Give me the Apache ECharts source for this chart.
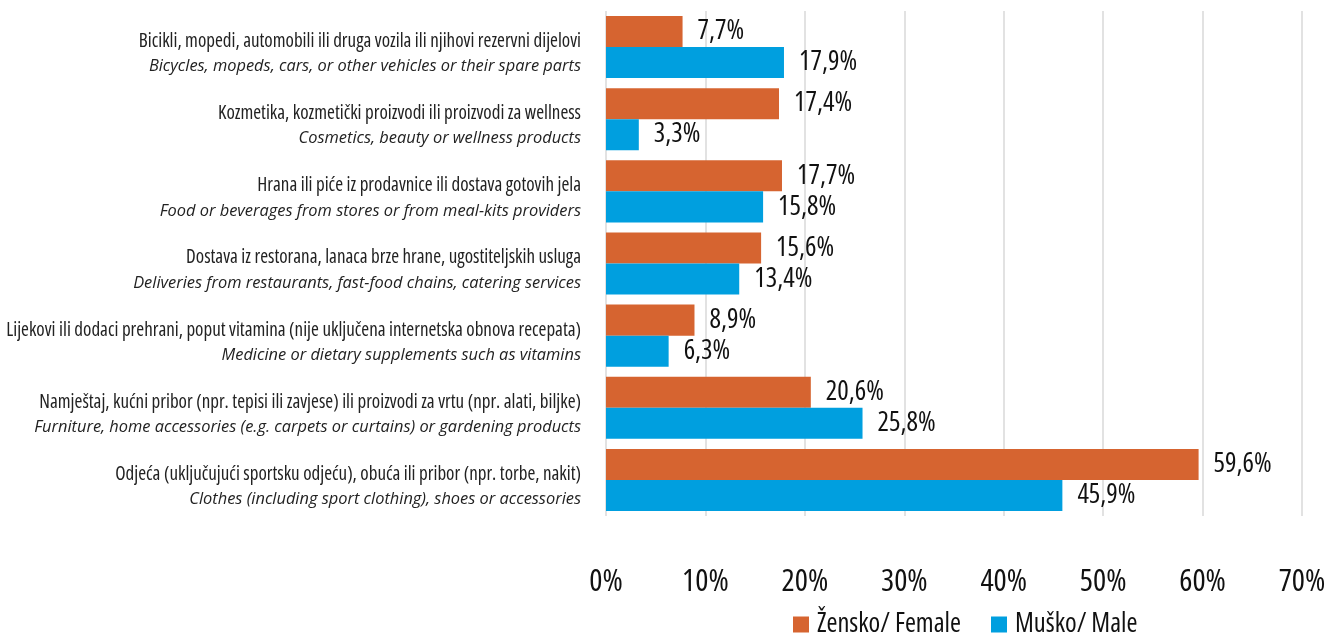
<!DOCTYPE html>
<html>
<head>
<meta charset="utf-8">
<script src="https://cdn.jsdelivr.net/npm/echarts@6/dist/echarts.min.js"></script>
<style>
  html, body { margin: 0; padding: 0; background: #fff; }
  #main { width: 1328px; height: 633px; }
</style>
</head>
<body>
<div id="main"></div>
<script>
// kategorije, odozgo prema dolje
var catLocal = [
  'Bicikli, mopedi, automobili ili druga vozila ili njihovi rezervni dijelovi',
  'Kozmetika, kozmetički proizvodi ili proizvodi za wellness',
  'Hrana ili piće iz prodavnice ili dostava gotovih jela',
  'Dostava iz restorana, lanaca brze hrane, ugostiteljskih usluga',
  'Lijekovi ili dodaci prehrani, poput vitamina (nije uključena internetska obnova recepata)',
  'Namještaj, kućni pribor (npr. tepisi ili zavjese) ili proizvodi za vrtu (npr. alati, biljke)',
  'Odjeća (uključujući sportsku odjeću), obuća ili pribor (npr. torbe, nakit)'
];
var catEnglish = [
  'Bicycles, mopeds, cars, or other vehicles or their spare parts',
  'Cosmetics, beauty or wellness products',
  'Food or beverages from stores or from meal-kits providers',
  'Deliveries from restaurants, fast-food chains, catering services',
  'Medicine or dietary supplements such as vitamins',
  'Furniture, home accessories (e.g. carpets or curtains) or gardening products',
  'Clothes (including sport clothing), shoes or accessories'
];
var female = [7.7, 17.4, 17.7, 15.6, 8.9, 20.6, 59.6];
var male = [17.9, 3.3, 15.8, 13.4, 6.3, 25.8, 45.9];
var seriesNames = ['Žensko/ Female', 'Muško/ Male'];

// Open Sans sa suženom širinom (condensed) – najbliže originalu
var FONT = '"Open Sans", "Roboto Condensed", sans-serif';
var STRETCH = 'condensed';

var myChart = echarts.init(document.getElementById('main'));

function pct(p) {
  return p.value.toFixed(1).replace('.', ',') + '%';
}

var valueLabel = {
  show: true,
  position: 'right',
  distance: 15,
  formatter: pct,
  fontFamily: FONT,
  fontWeight: STRETCH,
  fontSize: 27,
  color: '#111'
};

var option = {
  animation: false,
  textStyle: { fontFamily: FONT },
  grid: {
    left: 606,
    right: 26,
    top: 11,
    bottom: 117,
    containLabel: false,
    outerBoundsMode: 'none'
  },
  legend: {
    top: 606,
    left: 788,
    itemWidth: 16,
    itemHeight: 16,
    itemGap: 30,
    icon: 'rect',
    textStyle: { fontFamily: FONT, fontWeight: STRETCH, fontSize: 26.5, color: '#111', padding: [0, 0, 0, 3] },
    data: seriesNames
  },
  xAxis: {
    type: 'value',
    min: 0,
    max: 70,
    interval: 10,
    axisLine: { show: false },
    axisTick: { show: false },
    splitLine: { lineStyle: { color: '#d9d9d9', width: 1.5 } },
    axisLabel: {
      formatter: '{value}%',
      margin: 51,
      fontFamily: FONT,
      fontWeight: STRETCH,
      fontSize: 31,
      color: '#111'
    }
  },
  yAxis: {
    type: 'category',
    inverse: true,
    data: catLocal,
    axisLine: { show: false },
    axisTick: { show: false },
    axisLabel: {
      margin: 25,
      align: 'right',
      padding: [14, 0, 0, 0],
      formatter: function (v, i) {
        return '{a|' + v + '}\n{b|' + catEnglish[i] + '}';
      },
      rich: {
        a: { fontFamily: FONT, fontWeight: STRETCH, fontSize: 19, color: '#222', lineHeight: 25, align: 'right' },
        b: { fontFamily: FONT, fontSize: 16.4, fontStyle: 'italic', color: '#222', lineHeight: 25, align: 'right' }
      }
    }
  },
  series: [
    {
      name: seriesNames[0],
      type: 'bar',
      data: female,
      barGap: '0%',
      barCategoryGap: '14%',
      itemStyle: { color: '#D66430' },
      label: valueLabel
    },
    {
      name: seriesNames[1],
      type: 'bar',
      data: male,
      barGap: '0%',
      barCategoryGap: '14%',
      itemStyle: { color: '#009FDF' },
      label: valueLabel
    }
  ]
};

myChart.setOption(option);
</script>
</body>
</html>
